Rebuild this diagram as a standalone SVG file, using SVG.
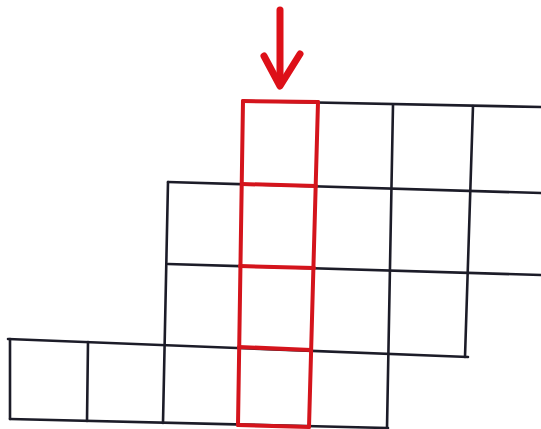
<svg xmlns="http://www.w3.org/2000/svg" width="541" height="429" viewBox="0 0 541 429">
<style>
.k{stroke:#1c1c28;stroke-width:2.6;fill:none;stroke-linecap:round}
.r{stroke:#d4141c;stroke-width:4;fill:none;stroke-linecap:round;stroke-linejoin:round}
.a{stroke:#dd1018;stroke-width:7;fill:none;stroke-linecap:round;stroke-linejoin:round}
</style>
<rect width="541" height="429" fill="#ffffff"/>
<g id="grid">
<line class="k" x1="243" y1="101" x2="541" y2="107"/>
<line class="k" x1="168" y1="182" x2="541" y2="193"/>
<line class="k" x1="168" y1="264" x2="541" y2="275"/>
<line class="k" x1="8" y1="339" x2="468" y2="357"/>
<line class="k" x1="10" y1="419" x2="388" y2="428"/>
<line class="k" x1="10" y1="339" x2="10" y2="419"/>
<line class="k" x1="88" y1="342" x2="87" y2="421"/>
<line class="k" x1="168" y1="182" x2="163" y2="423"/>
<line class="k" x1="393" y1="105" x2="387" y2="428"/>
<line class="k" x1="473" y1="106" x2="465" y2="357"/>
</g>
<g id="column">
<line class="r" x1="243" y1="101" x2="238" y2="425"/>
<line class="r" x1="318" y1="102" x2="309" y2="427"/>
<line class="r" x1="243" y1="101" x2="318" y2="102"/>
<line class="r" x1="242" y1="184" x2="316" y2="186"/>
<line class="r" x1="240" y1="266" x2="314" y2="268"/>
<line class="r" x1="239" y1="347" x2="311" y2="350"/>
<line class="r" x1="238" y1="425" x2="309" y2="427"/>
</g>
<g id="arrow">
<line class="a" x1="280" y1="10" x2="280" y2="84"/>
<polyline class="a" points="264,56 280,86 300,54"/>
</g>
</svg>
